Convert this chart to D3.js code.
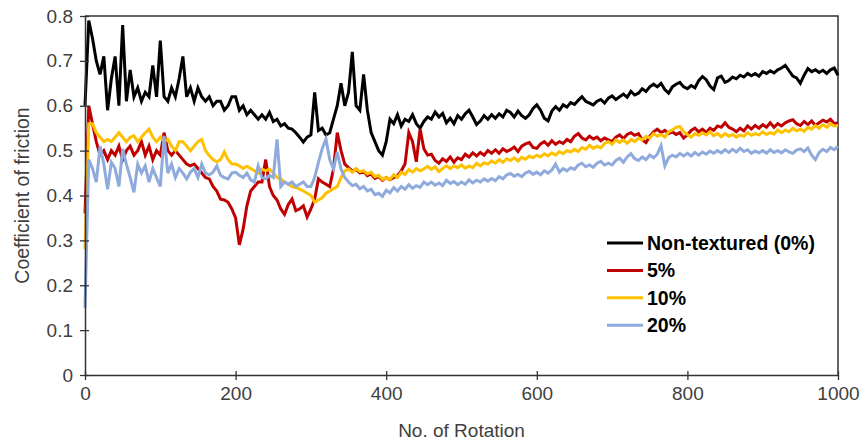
<!DOCTYPE html>
<html>
<head>
<meta charset="utf-8">
<script src="https://cdn.jsdelivr.net/npm/d3@7"></script>
<style>
  body { margin: 0; background: #fff; }
  text { font-family: "Liberation Sans", Arial, sans-serif; }
</style>
</head>
<body>
<svg width="865" height="445"></svg>
<script>
// DATA (one value every 5 rotations, 0..1000)
const step = 5;
const seriesNames = ['Non-textured (0%)', '5%', '10%', '20%'];
const seriesColors = ['#000000', '#c00000', '#ffc000', '#8faadc'];
const xTicks = [0, 200, 400, 600, 800, 1000];
const yTicks = [0, 0.1, 0.2, 0.3, 0.4, 0.5, 0.6, 0.7, 0.8];

const nonTextured = [
  0.60, 0.79, 0.75, 0.70, 0.67, 0.71, 0.59, 0.66, 0.71, 0.60,
  0.78, 0.61, 0.68, 0.62, 0.64, 0.61, 0.63, 0.62, 0.69, 0.62,
  0.745, 0.62, 0.61, 0.64, 0.62, 0.66, 0.71, 0.62, 0.64, 0.61,
  0.64, 0.62, 0.61, 0.62, 0.60, 0.61, 0.61, 0.59, 0.60, 0.62,
  0.62, 0.59, 0.60, 0.58, 0.59, 0.58, 0.57, 0.58, 0.57, 0.585,
  0.565, 0.57, 0.555, 0.56, 0.55, 0.548, 0.54, 0.53, 0.519, 0.53,
  0.535, 0.63, 0.545, 0.55, 0.535, 0.54, 0.57, 0.60, 0.65, 0.60,
  0.63, 0.72, 0.60, 0.59, 0.67, 0.59, 0.54, 0.52, 0.50, 0.49,
  0.52, 0.57, 0.56, 0.58, 0.555, 0.57, 0.565, 0.58, 0.56, 0.55,
  0.565, 0.575, 0.57, 0.586, 0.575, 0.583, 0.562, 0.572, 0.56, 0.578,
  0.57, 0.582, 0.59, 0.575, 0.558, 0.566, 0.578, 0.57, 0.58, 0.572,
  0.582, 0.575, 0.59, 0.585, 0.575, 0.588, 0.578, 0.572, 0.58, 0.594,
  0.602, 0.59, 0.572, 0.566, 0.588, 0.598, 0.59, 0.602, 0.597, 0.607,
  0.603, 0.612, 0.62, 0.61, 0.606, 0.602, 0.61, 0.614, 0.606, 0.617,
  0.622, 0.614, 0.62, 0.626, 0.619, 0.632, 0.624, 0.628, 0.638, 0.632,
  0.642, 0.648, 0.642, 0.65, 0.636, 0.628, 0.642, 0.648, 0.652, 0.642,
  0.638, 0.645, 0.64, 0.656, 0.665, 0.658, 0.644, 0.636, 0.662, 0.666,
  0.652, 0.656, 0.664, 0.66, 0.668, 0.664, 0.672, 0.667, 0.672, 0.666,
  0.676, 0.672, 0.678, 0.673, 0.68, 0.684, 0.69, 0.678, 0.666, 0.662,
  0.65, 0.668, 0.683, 0.676, 0.68, 0.674, 0.679, 0.672, 0.68, 0.684,
  0.668
];

const textured5 = [
  0.36, 0.60, 0.56, 0.52, 0.49, 0.50, 0.48, 0.50, 0.49, 0.51,
  0.48, 0.50, 0.51, 0.49, 0.50, 0.52, 0.49, 0.51, 0.48, 0.50,
  0.49, 0.54, 0.50, 0.49, 0.50, 0.49, 0.48, 0.47, 0.466, 0.47,
  0.46, 0.45, 0.44, 0.437, 0.42, 0.41, 0.392, 0.39, 0.385, 0.37,
  0.35, 0.29, 0.325, 0.377, 0.41, 0.42, 0.43, 0.43, 0.48, 0.42,
  0.40, 0.39, 0.37, 0.358, 0.38, 0.392, 0.366, 0.37, 0.377, 0.352,
  0.37, 0.392, 0.437, 0.43, 0.425, 0.42, 0.459, 0.54, 0.50, 0.47,
  0.462, 0.455, 0.458, 0.45, 0.454, 0.444, 0.448, 0.438, 0.442, 0.434,
  0.44, 0.435, 0.44, 0.444, 0.455, 0.47, 0.54, 0.52, 0.475, 0.548,
  0.504, 0.49, 0.492, 0.478, 0.472, 0.482, 0.476, 0.486, 0.474, 0.484,
  0.48, 0.492, 0.486, 0.495, 0.488, 0.496, 0.49, 0.50, 0.494, 0.502,
  0.494, 0.504, 0.498, 0.502, 0.508, 0.498, 0.51, 0.515, 0.518, 0.507,
  0.505, 0.515, 0.52, 0.512, 0.522, 0.514, 0.52, 0.516, 0.525, 0.52,
  0.532, 0.538, 0.528, 0.524, 0.532, 0.526, 0.53, 0.522, 0.528, 0.524,
  0.52, 0.53, 0.535, 0.527, 0.536, 0.54, 0.534, 0.538, 0.524, 0.518,
  0.532, 0.542, 0.548, 0.54, 0.545, 0.538, 0.542, 0.536, 0.54, 0.528,
  0.535, 0.545, 0.55, 0.542, 0.548, 0.54, 0.55, 0.545, 0.555, 0.552,
  0.562, 0.552, 0.548, 0.542, 0.55, 0.544, 0.555, 0.548, 0.556, 0.55,
  0.558, 0.552, 0.562, 0.552, 0.56, 0.555, 0.562, 0.566, 0.569, 0.56,
  0.556, 0.565, 0.558, 0.566, 0.556, 0.562, 0.568, 0.564, 0.57, 0.56,
  0.562
];

const textured10 = [
  0.28, 0.56, 0.56, 0.54, 0.53, 0.52, 0.525, 0.52, 0.53, 0.54,
  0.53, 0.52, 0.53, 0.533, 0.52, 0.53, 0.54, 0.548, 0.53, 0.52,
  0.53, 0.52, 0.525, 0.51, 0.50, 0.52, 0.52, 0.51, 0.50, 0.51,
  0.52, 0.525, 0.50, 0.489, 0.48, 0.475, 0.48, 0.497, 0.48, 0.47,
  0.47, 0.466, 0.46, 0.465, 0.46, 0.455, 0.45, 0.459, 0.455, 0.459,
  0.45, 0.44, 0.437, 0.43, 0.425, 0.42, 0.418, 0.414, 0.41, 0.405,
  0.40, 0.385, 0.39, 0.395, 0.405, 0.41, 0.415, 0.42, 0.44, 0.455,
  0.459, 0.452, 0.46, 0.453, 0.455, 0.448, 0.452, 0.442, 0.445, 0.436,
  0.44, 0.436, 0.446, 0.44, 0.452, 0.447, 0.458, 0.452, 0.46, 0.455,
  0.459, 0.465, 0.458, 0.464, 0.453, 0.46, 0.466, 0.46, 0.466, 0.462,
  0.468, 0.461, 0.466, 0.462, 0.472, 0.466, 0.473, 0.47, 0.477, 0.472,
  0.48, 0.474, 0.482, 0.478, 0.484, 0.477, 0.485, 0.481, 0.488, 0.484,
  0.49, 0.486, 0.493, 0.488, 0.495, 0.49, 0.498, 0.493, 0.50, 0.497,
  0.503, 0.498, 0.507, 0.503, 0.512, 0.505, 0.51, 0.506, 0.516, 0.52,
  0.514, 0.524, 0.518, 0.524, 0.516, 0.525, 0.52, 0.528, 0.524, 0.532,
  0.528, 0.538, 0.532, 0.536, 0.53, 0.542, 0.546, 0.552, 0.554, 0.542,
  0.536, 0.53, 0.538, 0.534, 0.54, 0.535, 0.542, 0.533, 0.538, 0.531,
  0.538, 0.532, 0.536, 0.53, 0.535, 0.532, 0.54, 0.534, 0.538, 0.535,
  0.542, 0.536, 0.54, 0.537, 0.546, 0.54, 0.546, 0.542, 0.55, 0.544,
  0.548, 0.543, 0.552, 0.548, 0.556, 0.55, 0.558, 0.552, 0.56, 0.555,
  0.556
];

const textured20 = [
  0.15, 0.48, 0.46, 0.43, 0.51, 0.47, 0.414, 0.474, 0.46, 0.42,
  0.504, 0.47, 0.44, 0.407, 0.47, 0.45, 0.466, 0.43, 0.46, 0.44,
  0.42, 0.533, 0.45, 0.47, 0.44, 0.46, 0.45, 0.437, 0.452, 0.46,
  0.44, 0.47, 0.45, 0.446, 0.452, 0.466, 0.445, 0.44, 0.437, 0.45,
  0.452, 0.445, 0.44, 0.45, 0.435, 0.43, 0.466, 0.44, 0.437, 0.445,
  0.44, 0.525, 0.42, 0.43, 0.425, 0.43, 0.42, 0.425, 0.43, 0.42,
  0.42, 0.44, 0.474, 0.504, 0.526, 0.48, 0.459, 0.497, 0.459, 0.44,
  0.43, 0.422, 0.425, 0.415, 0.42, 0.41, 0.414, 0.402, 0.405, 0.398,
  0.412, 0.406, 0.418, 0.41, 0.42, 0.414, 0.424, 0.416, 0.422, 0.418,
  0.43, 0.424, 0.43, 0.423, 0.428, 0.422, 0.434, 0.427, 0.431, 0.424,
  0.43, 0.425, 0.435, 0.428, 0.434, 0.43, 0.437, 0.432, 0.438, 0.433,
  0.442, 0.437, 0.446, 0.449, 0.443, 0.447, 0.442, 0.45, 0.454, 0.447,
  0.452, 0.446, 0.455, 0.45, 0.457, 0.47, 0.452, 0.46, 0.455, 0.462,
  0.458, 0.468, 0.472, 0.464, 0.468, 0.463, 0.472, 0.476, 0.468, 0.472,
  0.468, 0.478, 0.483, 0.474, 0.486, 0.493, 0.482, 0.478, 0.486, 0.48,
  0.49, 0.484, 0.492, 0.511, 0.466, 0.484, 0.49, 0.486, 0.494, 0.488,
  0.494, 0.488, 0.496, 0.49, 0.497, 0.492, 0.499, 0.494, 0.50, 0.495,
  0.502, 0.496, 0.503, 0.497, 0.505, 0.498, 0.502, 0.494, 0.499, 0.495,
  0.50, 0.494, 0.502, 0.496, 0.50, 0.495, 0.502, 0.497, 0.494, 0.501,
  0.504, 0.498, 0.506, 0.49, 0.48, 0.496, 0.503, 0.498, 0.507, 0.502,
  0.51
];

const allSeries = [nonTextured, textured5, textured10, textured20];

// LAYOUT
const svg = d3.select('svg');
const plotLeft = 85, plotRight = 838, plotTop = 16, plotBottom = 375;

const x = d3.scaleLinear().domain([0, 1000]).range([plotLeft, plotRight]);
const y = d3.scaleLinear().domain([0, 0.8]).range([plotBottom, plotTop]);

// plot frame (top + right)
svg.append('path')
    .attr('d', `M${plotLeft} ${plotTop} H${plotRight} V${plotBottom}`)
    .attr('fill', 'none')
    .attr('stroke', '#333')
    .attr('stroke-width', 1.5);

// LINES
const line = d3.line()
  .x((d, i) => x(i * step))
  .y(d => y(d));

allSeries.forEach((s, k) => {
  svg.append('path')
      .datum(s)
      .attr('d', line)
      .attr('fill', 'none')
      .attr('stroke', seriesColors[k])
      .attr('stroke-width', 3)
      .attr('stroke-linejoin', 'miter');
});

// AXES
const xAxis = svg.append('g')
    .attr('transform', `translate(0, ${plotBottom})`)
    .call(d3.axisBottom(x).tickValues(xTicks).tickSize(0).tickPadding(12).tickFormat(d3.format('d')));
xAxis.select('.domain').attr('stroke', '#333').attr('stroke-width', 1.5);
xAxis.selectAll('.tick line').attr('y1', -4).attr('y2', 5).attr('stroke', '#333').attr('stroke-width', 1.3);
xAxis.selectAll('text').attr('font-size', 19).attr('fill', '#404040')
    .style('font-family', '"Liberation Sans", Arial, sans-serif');

const yAxis = svg.append('g')
    .attr('transform', `translate(${plotLeft}, 0)`)
    .call(d3.axisLeft(y).tickValues(yTicks).tickSize(0).tickPadding(12).tickFormat(d => d === 0 ? '0' : d3.format('.1f')(d)));
yAxis.select('.domain').attr('stroke', '#333').attr('stroke-width', 1.5);
yAxis.selectAll('.tick line').attr('x1', -5).attr('x2', 4).attr('stroke', '#333').attr('stroke-width', 1.3);
yAxis.selectAll('text').attr('font-size', 19).attr('fill', '#404040')
    .style('font-family', '"Liberation Sans", Arial, sans-serif');

// TITLES
svg.append('text')
    .attr('x', (plotLeft + plotRight) / 2)
    .attr('y', 437)
    .attr('text-anchor', 'middle')
    .attr('font-size', 19)
    .attr('fill', '#404040')
    .text('No. of Rotation');

svg.append('text')
    .attr('transform', `translate(29, ${(plotTop + plotBottom) / 2}) rotate(-90)`)
    .attr('text-anchor', 'middle')
    .attr('font-size', 19.5)
    .attr('fill', '#404040')
    .text('Coefficient of friction');

// LEGEND
const legend = svg.append('g');
seriesNames.forEach((name, i) => {
  const ly = 243 + i * 27.4;
  legend.append('line')
      .attr('x1', 607).attr('x2', 643)
      .attr('y1', ly).attr('y2', ly)
      .attr('stroke', seriesColors[i])
      .attr('stroke-width', 3);
  legend.append('text')
      .attr('x', 647)
      .attr('y', ly)
      .attr('dy', '0.35em')
      .attr('font-size', 19.5)
      .attr('font-weight', 'bold')
      .attr('fill', '#000')
      .text(name);
});
</script>
</body>
</html>
